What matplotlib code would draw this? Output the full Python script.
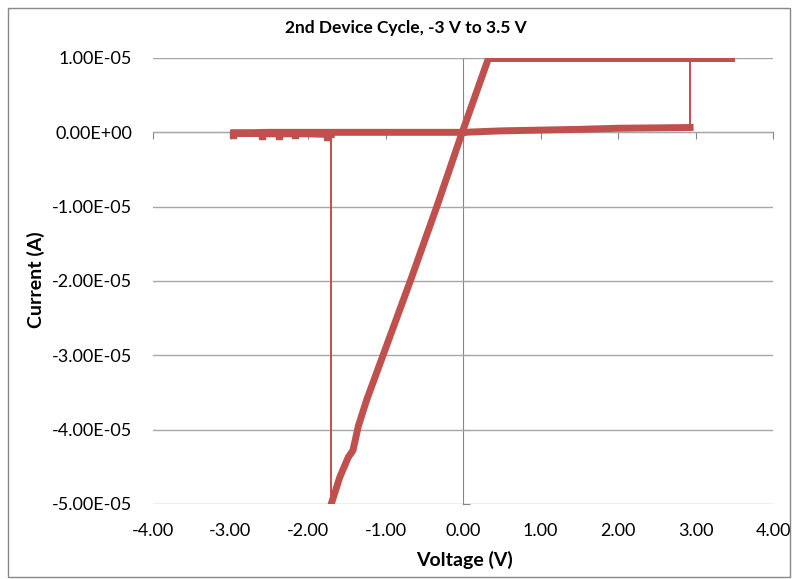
import matplotlib
matplotlib.use('Agg')
import matplotlib.pyplot as plt
from matplotlib.patches import Rectangle

# ── Data read off the I-V sweep (V in volts, I in amps) ──
# high resistance branch, 0 V up to the SET point
low_pos_v = [0.0, 0.5, 1.0, 1.5, 2.0, 2.5, 2.93]
low_pos_i = [0.0, 0.02e-5, 0.03e-5, 0.04e-5, 0.055e-5, 0.06e-5, 0.065e-5]
# SET jump to compliance
set_v = [2.93, 2.93]
set_i = [0.065e-5, 1.0e-5]
# compliance plateau, out to 3.5 V and back
high_v = [2.93, 3.5, 0.33]
high_i = [1.0e-5, 1.0e-5, 1.0e-5]
# ohmic (low resistance) branch down to the negative compliance
ohm_v = [0.33, -0.01, -0.335, -0.673, -1.243, -1.35, -1.42, -1.48, -1.59, -1.70]
ohm_i = [1.0e-5, 0.0, -0.99e-5, -1.98e-5, -3.6e-5, -3.95e-5, -4.28e-5, -4.37e-5, -4.64e-5, -5.0e-5]
# RESET jump
reset_v = [-1.70, -1.70]
reset_i = [-5.0e-5, -0.05e-5]
# high resistance branch out to -3 V and back to 0 V
low_neg_v = [-1.70, -2.0, -2.5, -3.0, -2.5, -2.0, -1.5, -1.0, -0.5, 0.0]
low_neg_i = [-0.03e-5, -0.02e-5, -0.02e-5, -0.01e-5, 0.0, 0.0, 0.0, 0.0, 0.0, 0.0]
# a few noisy points just below the negative branch
dip_v = [-2.97, -2.59, -2.37, -2.17, -1.76]
dip_i = [-0.04e-5, -0.045e-5, -0.05e-5, -0.035e-5, -0.06e-5]

x_ticks = [-4, -3, -2, -1, 0, 1, 2, 3, 4]
y_ticks = [-5e-5, -4e-5, -3e-5, -2e-5, -1e-5, 0, 1e-5]

# ── Style ──
plt.rcParams['font.family'] = ['Lato', 'DejaVu Sans']
red = '#C0504D'
grid_c = '#A6A6A6'
axis_c = '#868686'
thick = 5.0
thin = 1.4

fig = plt.figure(figsize=(7.93, 5.79), dpi=100)
fig.patches.append(Rectangle((8 / 793, 2 / 579), 782 / 793, 569 / 579, transform=fig.transFigure,
                             fill=False, edgecolor='#888888', linewidth=1.0))
ax = fig.add_axes([153 / 793, 1 - 504 / 579, 620 / 793, 446 / 579])

for s in ax.spines.values():
    s.set_visible(False)
ax.set_xlim(-4, 4)
ax.set_ylim(-5e-5, 1e-5)
ax.set_xticks(x_ticks)
ax.set_yticks(y_ticks)
ax.set_xticklabels([f'{v:.2f}' for v in x_ticks])
ax.set_yticklabels([f'{v:.2E}' for v in y_ticks])
ax.tick_params(axis='both', length=0, labelsize=13, colors='black')
ax.tick_params(axis='x', pad=14)
ax.tick_params(axis='y', pad=15)
ax.grid(axis='y', color=grid_c, linewidth=1.0)
ax.set_axisbelow(True)

# axis lines crossing at the origin
sx = ax.secondary_xaxis(5 / 6)
sx.set_xticks(x_ticks)
sx.xaxis.set_ticks_position('bottom')
sx.set_xticklabels([])
sx.tick_params(axis='x', direction='out', length=5, color=axis_c)
for s in sx.spines.values():
    s.set_color(axis_c)
sy = ax.secondary_yaxis(0.5)
sy.set_yticks(y_ticks)
sy.set_yticklabels([])
sy.tick_params(axis='y', direction='out', length=5, color=axis_c)
for s in sy.spines.values():
    s.set_color(axis_c)

# ── Curve ──
kw = dict(color=red, solid_capstyle='projecting', solid_joinstyle='miter', zorder=3)
ax.plot(low_pos_v, low_pos_i, linewidth=thick, **kw)
ax.plot(set_v, set_i, linewidth=thin, **kw)
ax.plot(high_v, high_i, linewidth=thick, **kw)
ax.plot(ohm_v, ohm_i, linewidth=thick, **kw)
ax.plot(reset_v, reset_i, linewidth=thin, **kw)
ax.plot(low_neg_v, low_neg_i, linewidth=thick, **kw)
ax.plot(dip_v, dip_i, linestyle='none', marker='s', markersize=5, color=red, zorder=3)

fig.text(464 / 793, 1 - 560 / 579, 'Voltage (V)', ha='center', va='center',
         fontsize=14, fontweight='bold')
fig.text(36 / 793, 1 - 280 / 579, 'Current (A)', ha='center', va='center', rotation=90,
         fontsize=14, fontweight='bold')
fig.text(406 / 793, 1 - 28 / 579, '2nd Device Cycle, -3 V to 3.5 V', ha='center', va='center',
         fontsize=12.5, fontweight='bold')

fig.savefig('out.png', dpi=100)
